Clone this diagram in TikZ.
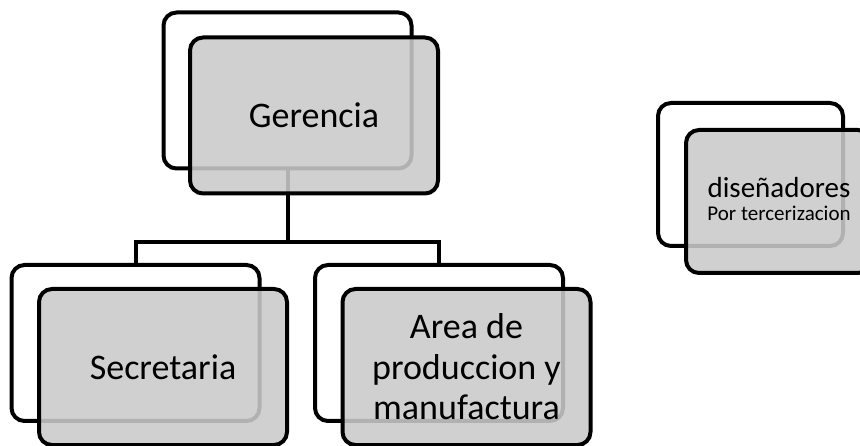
\documentclass[tikz,border=0pt]{standalone}
\usepackage{fontspec}
\setmainfont{Carlito}
\definecolor{boxgray}{RGB}{202,202,202}
\begin{document}
\begin{tikzpicture}[x=1pt,y=-1pt,
  back/.style={draw, line width=4pt, rounded corners=13pt, fill=white, inner sep=0pt},
  front/.style={draw, line width=4pt, rounded corners=13pt, fill=boxgray, fill opacity=0.88, text opacity=1, inner sep=0pt, align=center},
  big/.style={minimum width=248pt, minimum height=156pt},
  small/.style={minimum width=185pt, minimum height=143pt},
  link/.style={line width=4pt}]
\useasboundingbox (0,0) rectangle (860,446);
% back boxes
\node[back,big] (gb) at (287.5,90.5) {};
\node[back,big] (sb) at (135.5,343) {};
\node[back,big] (ab) at (439,343) {};
\node[back,small] (db) at (750.5,174.5) {};
% connectors
\coordinate (j) at (287.5,242);
\draw[link] (gb.south) -- (j);
\draw[link] (sb.north) |- (j) -| (ab.north);
% front boxes
\node[front,big,font=\fontsize{36}{40}\selectfont] (gf) at (314,115.5) {Gerencia};
\node[front,big,font=\fontsize{36}{40}\selectfont] (sf) at (163,367) {Secretaria};
\node[front,big,font=\fontsize{36}{40.5}\selectfont] (af) at (466.5,367) {Area de\\produccion y\\manufactura};
\node[front,small] (df) at (778.5,201.5) {};
\node[align=center, inner sep=0pt, font=\fontsize{21}{23}\selectfont] (dt) at (779,199) {{\fontsize{29}{23}\selectfont diseñadores}\\[0pt]Por tercerizacion};
\end{tikzpicture}
\end{document}
